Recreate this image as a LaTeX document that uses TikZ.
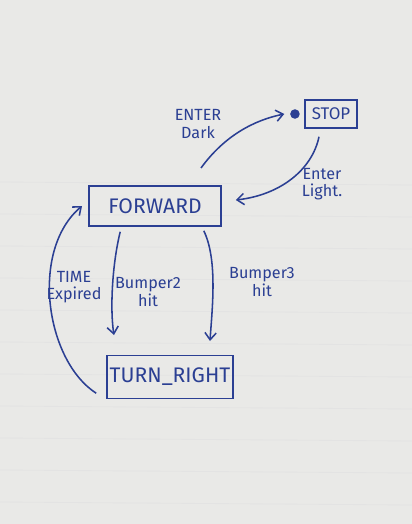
\documentclass[tikz,border=0pt]{standalone}
\usepackage{fontspec}
\setmainfont{Fira Sans}
\usetikzlibrary{positioning,arrows.meta}
\definecolor{ink}{HTML}{2B3F93}
\definecolor{paper}{HTML}{E9E9E7}
\begin{document}
\begin{tikzpicture}[x=0.025cm,y=-0.025cm,
    state/.style={draw=ink, line width=1.1pt, text=ink, font=\fontsize{15}{16}\selectfont, inner sep=0pt},
    lbl/.style={text=ink, font=\fontsize{11.5}{12.5}\selectfont, align=center},
    edge/.style={draw=ink, line width=1.1pt, -{Straight Barb[length=5pt,width=8pt]}}]
    \useasboundingbox (0,0) rectangle (412,524);
    \fill[paper] (0,0) rectangle (412,524);
    % faint ruling of the paper
    \foreach \y in {182,214,246,278,310,342,374,406,438,470,502}
        \draw[black!11, line width=0.6pt] (0,\y) -- (412,\y+3);

    \node[state, minimum width=132*0.025cm, minimum height=40*0.025cm] (FWD) at (155,206) {FORWARD};
    \node[state, font=\fontsize{12}{13}\selectfont, minimum width=52*0.025cm, minimum height=28*0.025cm] (STOP) at (331,114) {STOP};
    \node[state, minimum width=126*0.025cm, minimum height=43*0.025cm] (TR) at (170,377) {TURN\_RIGHT};
    \node[circle, fill=ink, inner sep=2.4pt, left=3pt of STOP] (dot) {};

    \draw[edge] (201,168) .. controls (225,135) and (255,120) .. ([xshift=-4pt]dot.west);
    \node[lbl] (dark) at (198,124) {ENTER\\Dark};
    \draw[edge] (STOP.south) ++(-12,8) coordinate (s1) (s1) .. controls (312,170) and (280,195) .. ([xshift=14*0.025cm,yshift=6*0.025cm]FWD.east);
    \node[lbl] (light) at (322,184) {Enter\\Light.};

    \draw[edge] (FWD.south west) ++(32,5) coordinate (b2) (b2) .. controls (112,265) and (110,310) .. (114,335);
    \node[lbl] (bump2) at (148,292) {Bumper2\\hit};
    \draw[edge] (FWD.south east) ++(-18,4) coordinate (b3) (b3) .. controls (218,260) and (212,310) .. (210,341);
    \node[lbl] (bump3) at (262,282) {Bumper3\\hit};

    \draw[edge] (TR.south west) ++(-10,-6) coordinate (t1) (t1) .. controls (45,360) and (30,250) .. (82,206);
    \node[lbl] (time) at (74,287) {TIME\\Expired};
\end{tikzpicture}
\end{document}
